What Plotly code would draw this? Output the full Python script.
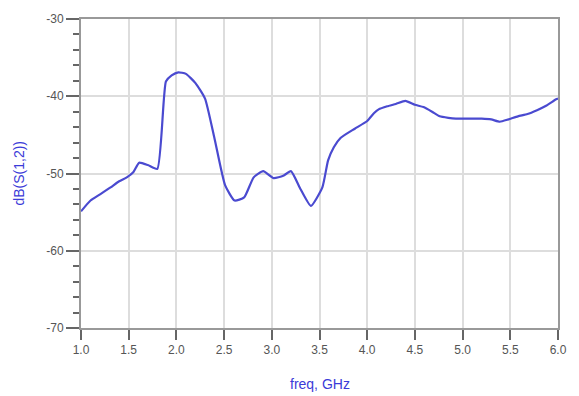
import plotly.graph_objects as go

freq = [1.0, 1.1, 1.2, 1.31, 1.4, 1.48, 1.55, 1.61, 1.7, 1.8, 1.89, 1.95, 2.02, 2.1, 2.2, 2.3, 2.4, 2.51, 2.61, 2.71, 2.81,
        2.91, 3.02, 3.12, 3.2, 3.3, 3.41, 3.53, 3.59, 3.65, 3.72, 3.87, 4.0, 4.07, 4.12, 4.21, 4.3, 4.4, 4.5,
        4.59, 4.68, 4.76, 4.85, 4.93, 5.05, 5.2, 5.3, 5.39, 5.48, 5.58, 5.68, 5.78, 5.88, 5.98, 6.0]
s12_db = [-54.9, -53.5, -52.7, -51.8, -51.0, -50.5, -49.8, -48.6, -48.9, -49.4, -38.1, -37.3, -36.9, -37.1, -38.3, -40.3, -45.5, -51.5, -53.5, -53.1, -50.5,
          -49.7, -50.6, -50.3, -49.7, -52.0, -54.2, -51.8, -48.3, -46.6, -45.4, -44.2, -43.2, -42.2, -41.7, -41.3, -41.0, -40.6, -41.1,
          -41.4, -42.0, -42.6, -42.8, -42.9, -42.9, -42.9, -43.0, -43.3, -43.0, -42.6, -42.3, -41.8, -41.2, -40.4, -40.3]

x_ticks = [1.0, 1.5, 2.0, 2.5, 3.0, 3.5, 4.0, 4.5, 5.0, 5.5, 6.0]
y_ticks = [-70, -60, -50, -40, -30]

fig = go.Figure()
fig.add_trace(go.Scatter(x=freq, y=s12_db, mode="lines",
                         line=dict(color="#4a4ad0", width=2.2, shape="spline", smoothing=0.5),
                         showlegend=False))

fig.update_layout(
    width=579, height=396,
    margin=dict(l=81, r=12, t=17, b=68),
    paper_bgcolor="white", plot_bgcolor="white",
    font=dict(family="Liberation Sans, Arial, sans-serif", size=12, color="#555"),
    annotations=[
        dict(text="freq, GHz", xref="paper", yref="paper", x=0.5, y=-0.18,
             xanchor="center", yanchor="middle", showarrow=False,
             font=dict(color="#3b3bd8", size=14)),
        dict(text="dB(S(1,2))", xref="paper", yref="paper", x=-0.132, y=0.5,
             xanchor="center", yanchor="middle", showarrow=False, textangle=-90,
             font=dict(color="#3b3bd8", size=14)),
    ],
)
fig.update_xaxes(
    range=[1.0, 6.0], tickvals=x_ticks, ticktext=[f"{v:.1f}" for v in x_ticks],
    showgrid=True, gridcolor="#dddddd", gridwidth=1.5,
    showline=True, linecolor="#999999", linewidth=2, mirror=True,
    ticks="outside", ticklen=10, tickcolor="#666", tickwidth=2,
    zeroline=False,
)
fig.update_yaxes(
    range=[-70, -30], tickvals=y_ticks, ticktext=[str(v) for v in y_ticks],
    showgrid=True, gridcolor="#dddddd", gridwidth=1.5,
    showline=True, linecolor="#999999", linewidth=2, mirror=True,
    ticks="outside", ticklen=13, tickcolor="#666", tickwidth=2,
    minor=dict(dtick=2, ticks="outside", ticklen=6, tickcolor="#666", tickwidth=2, showgrid=False),
    zeroline=False,
)

fig.write_html("out.html")
